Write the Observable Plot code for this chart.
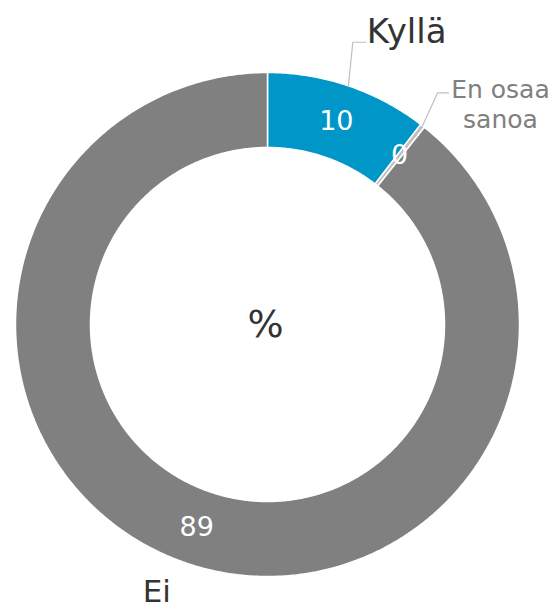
<!DOCTYPE html>
<html>
<head>
<meta charset="utf-8">
<script src="https://cdn.jsdelivr.net/npm/d3@7"></script>
<script src="https://cdn.jsdelivr.net/npm/@observablehq/plot@0.6"></script>
<style>
  html, body { margin: 0; padding: 0; background: #fff; }
  #chart svg { display: block; }
</style>
</head>
<body>
<div id="chart"></div>
<script>
// ---- data ----
const categories = ["Kyllä", "En osaa sanoa", "Ei"];
const values = [10.4, 0.3, 89.3];
const valueLabels = ["10", "0", "89"];
const centerLabel = "%";

// ---- style / layout ----
const colors = ["#0096c8", "#c0c0c0", "#808080"];
const W = 554, H = 611;
const cx = 267, cy = 324, R = 252;   // pixel centre & outer radius
const innerRatio = 177 / 252;
const font = "Verdana, 'DejaVu Sans', sans-serif";

// label layout (polar: elbow radius factor, angle shift in degrees; text offsets)
const labelLayout = {
  "Kyllä":         {elbowR: 1.17, shift: -1.9, run: 13, size: 34, color: "#333333", dx: 1, dy: -10, lines: ["Kyllä"], leader: true, anchor: "start"},
  "En osaa sanoa": {elbowR: 1.14, shift: -1.7, run: 11, size: 25, color: "#808080", dx: 52, dy: -3, lines: ["En osaa", "sanoa"], leader: true, anchor: "middle"},
  "Ei":            {elbowR: 1.16, shift: 3.0, run: 0, size: 31, color: "#333333", dx: 0, dy: -3, lines: ["Ei"], leader: false, anchor: "middle"}
};

// ---- geometry from data ----
const pie = d3.pie().sort(null).value(d => d.value).startAngle(0).endAngle(2 * Math.PI);
const rows = categories.map((c, i) => ({category: c, value: values[i], label: valueLabels[i], color: colors[i]}));
const arcs = pie(rows);

const polar = (r, a) => ({x: r * Math.sin(a), y: r * Math.cos(a)});

const poly = [];
arcs.forEach(a => {
  const n = Math.max(2, Math.ceil((a.endAngle - a.startAngle) / (Math.PI / 360)));
  const pts = [];
  for (let k = 0; k <= n; k++) pts.push(polar(1, a.startAngle + (a.endAngle - a.startAngle) * k / n));
  for (let k = n; k >= 0; k--) pts.push(polar(innerRatio, a.startAngle + (a.endAngle - a.startAngle) * k / n));
  pts.push(pts[0]);
  pts.forEach((p, j) => poly.push({category: a.data.category, color: a.data.color, x: p.x, y: p.y, j}));
});

// value labels at mid radius
const midR = (1 + innerRatio) / 2;
const valueText = arcs.map(a => {
  const m = (a.startAngle + a.endAngle) / 2;
  return {...polar(midR, m), text: a.data.label};
});

// outside labels + leaders
const leaders = [];
const outText = [];
arcs.forEach(a => {
  const L = labelLayout[a.data.category];
  const m = (a.startAngle + a.endAngle) / 2;
  const start = polar(1, m);
  const elbow = polar(L.elbowR, m + L.shift * Math.PI / 180);
  const end = {x: elbow.x + L.run / R, y: elbow.y};
  if (L.leader) {
    [start, elbow, end].forEach((p, j) => leaders.push({category: a.data.category, x: p.x, y: p.y, j}));
  }
  L.lines.forEach((t, li) => {
    outText.push({
      x: end.x, y: end.y, text: t,
      anchor: L.anchor,
      size: L.size, color: L.color,
      dx: L.dx,
      dy: L.dy + li * 30
    });
  });
});

const xDomain = [-cx / R, (W - cx) / R];
const yDomain = [-(H - cy) / R, cy / R];

const marks = [
  Plot.line(poly, {x: "x", y: "y", z: "category", fill: d => d.color, stroke: "#ffffff", strokeWidth: 1.5, strokeLinejoin: "miter", curve: "linear"}),
  Plot.line(leaders, {x: "x", y: "y", z: "category", stroke: "#bfbfbf", strokeWidth: 1.2}),
  Plot.text(valueText, {x: "x", y: "y", text: "text", fill: "#ffffff", fontSize: 27, fontFamily: font}),
  Plot.text([{x: 0, y: 0, text: centerLabel}], {x: "x", y: "y", text: "text", fill: "#333333", fontSize: 38, fontFamily: font, dx: -2})
];
outText.forEach(t => {
  marks.push(Plot.text([t], {x: "x", y: "y", text: "text", textAnchor: t.anchor, fill: t.color, fontSize: t.size, fontFamily: font, dx: t.dx, dy: t.dy}));
});

const chart = Plot.plot({
  width: W, height: H,
  margin: 0,
  x: {domain: xDomain, axis: null},
  y: {domain: yDomain, axis: null},
  style: {background: "#ffffff", overflow: "visible"},
  marks
});
document.getElementById("chart").append(chart);
</script>
</body>
</html>
